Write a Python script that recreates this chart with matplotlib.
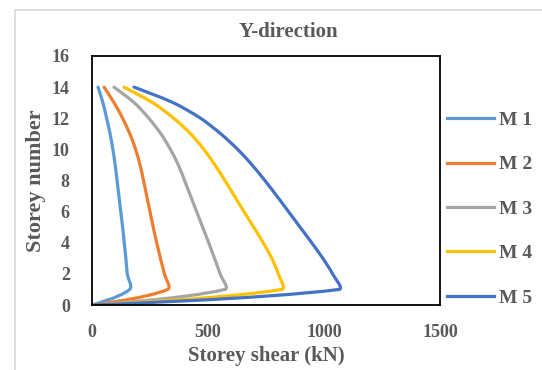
import numpy as np
import matplotlib
matplotlib.use("Agg")
import matplotlib.pyplot as plt
from matplotlib.path import Path
from matplotlib.patches import PathPatch, Rectangle
from matplotlib.lines import Line2D

# Storey levels (0 = base, 14 = roof)
storeys = list(range(0, 15))

# Storey shear (kN) per model, listed from base (storey 0) to roof (storey 14)
m1 = [0, 162, 152, 146, 139, 132, 124, 116, 108, 100, 90, 78, 63, 47, 26]
m2 = [0, 326, 312, 295, 279, 264, 250, 236, 222, 207, 188, 163, 132, 95, 52]
m3 = [0, 573, 552, 528, 503, 477, 451, 425, 399, 372, 338, 297, 245, 182, 95]
m4 = [0, 818, 803, 775, 738, 697, 655, 614, 573, 530, 482, 425, 352, 262, 138]
m5 = [0, 1065, 1037, 995, 947, 897, 847, 797, 745, 690, 628, 555, 468, 350, 181]

series_names = ["M 1", "M 2", "M 3", "M 4", "M 5"]
series_values = [m1, m2, m3, m4, m5]
colors = ["#5B9BD5", "#ED7D31", "#A5A5A5", "#FFC000", "#4472C4"]

x_ticks = [0, 500, 1000, 1500]
y_ticks = [0, 2, 4, 6, 8, 10, 12, 14, 16]
x_max, y_max = 1500, 16

TEXT = "#595959"
SERIF = "Liberation Serif"

# axes box in figure pixels
AX_L, AX_R, AX_T, AX_B = 92, 440, 56, 305
W, H = 542, 370


def smooth_path(xs, ys, tension=0.3):
    """Smoothed cubic Bezier path through the points; tangents are taken
    in screen proportions and scaled by each neighbouring segment length."""
    sx = (AX_R - AX_L) / x_max
    sy = (AX_B - AX_T) / y_max
    p = np.column_stack([np.asarray(xs, float) * sx, np.asarray(ys, float) * sy])
    n = len(p)
    tang = np.zeros_like(p)
    for i in range(1, n - 1):
        d = p[i + 1] - p[i - 1]
        tang[i] = d / np.hypot(*d)
    verts = [p[0]]
    codes = [Path.MOVETO]
    for i in range(n - 1):
        seg = np.hypot(*(p[i + 1] - p[i]))
        c1 = p[i] + tang[i] * seg * tension
        c2 = p[i + 1] - tang[i + 1] * seg * tension
        verts += [c1, c2, p[i + 1]]
        codes += [Path.CURVE4] * 3
    v = np.array(verts)
    v[:, 0] /= sx
    v[:, 1] /= sy
    return Path(v, codes)


fig = plt.figure(figsize=(W / 100, H / 100), dpi=100)

# light chart-area frame
fig.patches.append(Rectangle((15 / W, -0.05), 1.2, 1 - 10 / H + 0.05,
                             transform=fig.transFigure, fill=False,
                             edgecolor="#D9D9D9", linewidth=1.2))

ax = fig.add_axes([AX_L / W, 1 - AX_B / H, (AX_R - AX_L) / W, (AX_B - AX_T) / H])

for vals, col in zip(series_values, colors):
    ax.add_patch(PathPatch(smooth_path(vals, storeys), facecolor="none",
                           edgecolor=col, linewidth=2.3, capstyle="round",
                           joinstyle="round"))

ax.set_xlim(0, x_max)
ax.set_ylim(0, y_max)
ax.set_xticks(x_ticks)
ax.set_yticks(y_ticks)
ax.tick_params(length=0, labelsize=13, labelcolor=TEXT)
ax.tick_params(axis="x", pad=14)
ax.tick_params(axis="y", pad=16)
for lab in ax.get_xticklabels() + ax.get_yticklabels():
    lab.set_fontfamily(SERIF)
    lab.set_fontweight("bold")
for s in ax.spines.values():
    s.set_color("black")
    s.set_linewidth(1.3)

ax.set_xlabel("Storey shear (kN)", fontsize=15, fontweight="bold",
              family=SERIF, color=TEXT, labelpad=3)
ax.set_ylabel("Storey number", fontsize=16, fontweight="bold",
              family=SERIF, color=TEXT, labelpad=4)
fig.text(288 / W, 1 - 32 / H, "Y-direction", ha="center", va="center",
         fontsize=15, fontweight="bold", family=SERIF, color=TEXT)

handles = [Line2D([], [], color=c, linewidth=2.3) for c in colors]
fig.legend(handles, series_names, loc="center left",
           bbox_to_anchor=(447 / W, 1 - 209 / H), frameon=False,
           borderpad=0, borderaxespad=0,
           handlelength=2.4, handletextpad=0.25, labelspacing=1.38,
           prop={"family": SERIF, "weight": "bold", "size": 14},
           labelcolor=TEXT)

fig.savefig("out.png", dpi=100)
